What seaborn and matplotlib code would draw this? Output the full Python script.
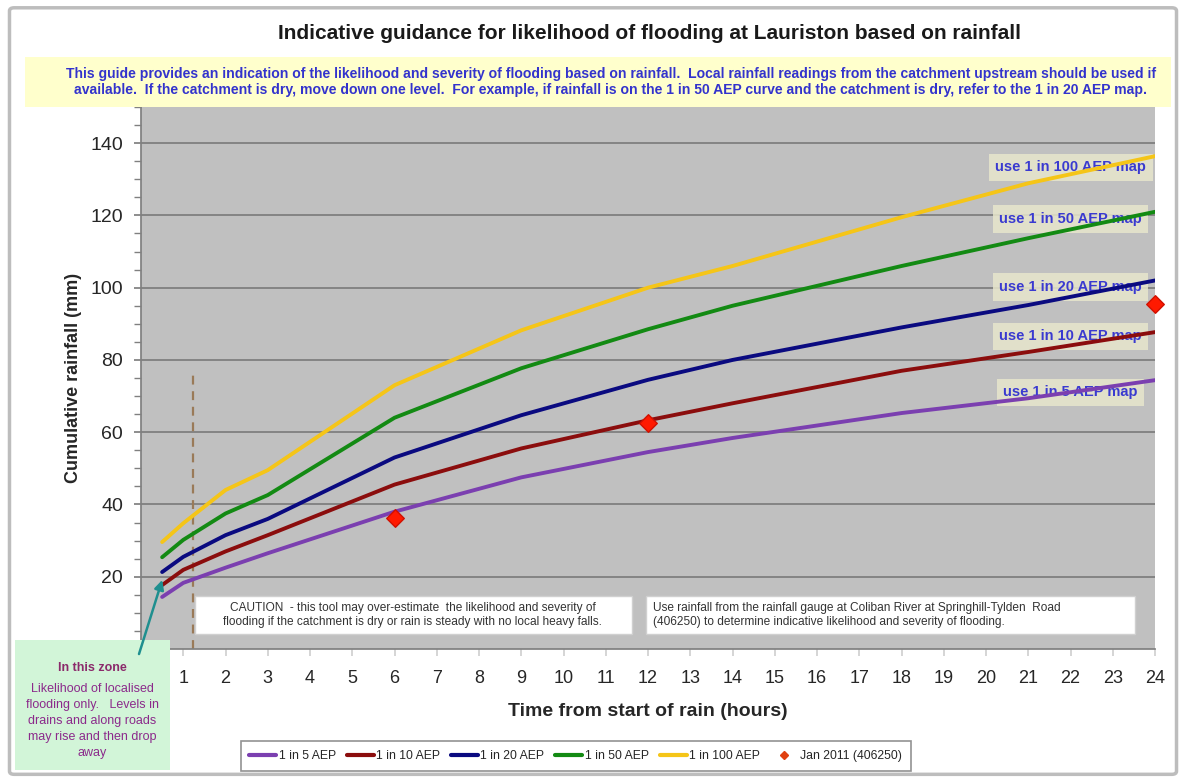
import pandas as pd
import seaborn as sns
import matplotlib.pyplot as plt
from matplotlib.patches import Rectangle, FancyBboxPatch
from matplotlib.ticker import MultipleLocator

# durations (hours) and cumulative rainfall (mm) for each AEP curve
hours = [0.5, 1, 2, 3, 6, 9, 12, 14, 18, 21, 24]
aep_5 = [14.4, 18.3, 22.5, 26.5, 38.0, 47.5, 54.5, 58.4, 65.3, 69.4, 74.4]
aep_10 = [17.7, 21.9, 27.0, 31.5, 45.5, 55.5, 63.3, 68.0, 77.0, 82.2, 87.7]
aep_20 = [21.3, 25.5, 31.5, 36.0, 53.0, 64.7, 74.5, 80.0, 89.0, 95.2, 102.0]
aep_50 = [25.4, 30.2, 37.5, 42.6, 64.0, 77.7, 88.5, 95.0, 106.0, 113.7, 121.0]
aep_100 = [29.6, 34.8, 44.0, 49.5, 73.0, 88.2, 100.0, 106.0, 119.5, 128.9, 136.4]
series_names = ["1 in 5 AEP", "1 in 10 AEP", "1 in 20 AEP", "1 in 50 AEP", "1 in 100 AEP"]

# observed event Jan 2011
obs_hours = [6, 12, 24]
obs_rain = [36.2, 62.5, 95.4]

map_labels = ["use 1 in 100 AEP map", "use 1 in 50 AEP map", "use 1 in 20 AEP map",
              "use 1 in 10 AEP map", "use 1 in 5 AEP map"]
map_label_y = [133.3, 119.0, 100.2, 86.6, 71.0]

colors = {"1 in 5 AEP": "#7b3fb0", "1 in 10 AEP": "#8b0d0d", "1 in 20 AEP": "#0a0a80",
          "1 in 50 AEP": "#138a13", "1 in 100 AEP": "#f5c518"}

rows = []
for name, vals in zip(series_names, [aep_5, aep_10, aep_20, aep_50, aep_100]):
    for h, v in zip(hours, vals):
        rows.append({"hours": h, "rain": v, "series": name})
df = pd.DataFrame(rows)

sns.set_theme(style="white")
plt.rcParams["font.family"] = ["Liberation Sans", "DejaVu Sans"]

fig = plt.figure(figsize=(11.86, 7.79), dpi=100)
ax = fig.add_axes([0.1189, 0.1669, 0.8550, 0.6957])
ax.set_facecolor("#c0c0c0")

# figure frame
fig.patches.append(FancyBboxPatch((0.008, 0.006), 0.984, 0.984, boxstyle="round,pad=0,rounding_size=0.004",
                                  transform=fig.transFigure, facecolor="none", edgecolor="#bdbdbd", lw=2.5))

sns.lineplot(data=df, x="hours", y="rain", hue="series", palette=colors, hue_order=series_names,
             lw=2.8, ax=ax, zorder=3, legend=False)
ax.scatter(obs_hours, obs_rain, marker="D", s=80, color="#ff1a00", edgecolor="#d01000", zorder=5,
           clip_on=False)

# dashed threshold line
ax.plot([1.24, 1.24], [0, 76], ls=(0, (4, 3)), color="#9a7a58", lw=1.6, zorder=2)

ax.set_xlim(0, 24)
ax.set_ylim(0, 150)
ax.set_xticks(range(1, 25))
ax.yaxis.set_major_locator(MultipleLocator(20))
ax.yaxis.set_minor_locator(MultipleLocator(5))
ax.set_yticks(range(20, 141, 20))
ax.grid(axis="y", which="major", color="#7f7f7f", lw=1.3)
ax.set_axisbelow(True)
for s in ["top", "right"]:
    ax.spines[s].set_visible(False)
ax.spines["left"].set_color("#808080")
ax.spines["bottom"].set_color("#808080")
ax.tick_params(axis="y", which="both", direction="out", left=True, length=5, color="#808080",
               labelsize=14, pad=8)
ax.tick_params(axis="x", direction="out", bottom=True, length=5, color="#d0d0d0", labelsize=13, pad=10)
ax.set_xlabel("Time from start of rain (hours)", fontsize=14, fontweight="bold", labelpad=12)
ax.set_ylabel("Cumulative rainfall (mm)", fontsize=13, fontweight="bold", labelpad=6)

# map labels on the right
for lab, yv in zip(map_labels, map_label_y):
    ax.text(22.0, yv, lab, ha="center", va="center", fontsize=10.5, fontweight="bold", color="#3a3ad0",
            zorder=2.5, bbox=dict(boxstyle="square,pad=0.45", facecolor="#e8e6cc", edgecolor="none", alpha=0.85))

# title and note
fig.text(0.548, 0.957, "Indicative guidance for likelihood of flooding at Lauriston based on rainfall",
         ha="center", va="center", fontsize=15, fontweight="bold", color="#1a1a1a")
fig.patches.append(Rectangle((0.021, 0.863), 0.966, 0.064, transform=fig.transFigure,
                             facecolor="#ffffcc", edgecolor="none"))
fig.text(0.515, 0.895,
         "This guide provides an indication of the likelihood and severity of flooding based on rainfall.  "
         "Local rainfall readings from the catchment upstream should be used if\n"
         "available.  If the catchment is dry, move down one level.  For example, if rainfall is on the "
         "1 in 50 AEP curve and the catchment is dry, refer to the 1 in 20 AEP map.",
         ha="center", va="center", fontsize=10.1, fontweight="bold", color="#3333cc", linespacing=1.2)

# caution boxes
fig.patches.append(Rectangle((0.1645, 0.186), 0.368, 0.049, transform=fig.transFigure,
                             facecolor="white", edgecolor="#d0d0d0", zorder=4))
fig.text(0.348, 0.2105, "CAUTION  - this tool may over-estimate  the likelihood and severity of\n"
         "flooding if the catchment is dry or rain is steady with no local heavy falls.",
         ha="center", va="center", fontsize=8.6, color="#333333", zorder=5, linespacing=1.3)
fig.patches.append(Rectangle((0.5447, 0.186), 0.412, 0.049, transform=fig.transFigure,
                             facecolor="white", edgecolor="#d0d0d0", zorder=4))
fig.text(0.551, 0.2105, "Use rainfall from the rainfall gauge at Coliban River at Springhill-Tylden  Road\n"
         "(406250) to determine indicative likelihood and severity of flooding.",
         ha="left", va="center", fontsize=8.6, color="#333333", zorder=5, linespacing=1.3)

# green zone box with arrow
fig.patches.append(Rectangle((0.013, 0.012), 0.130, 0.167, transform=fig.transFigure,
                             facecolor="#d2f5d8", edgecolor="none", zorder=4))
fig.text(0.078, 0.1425, "In this zone", ha="center", va="center", fontsize=9, fontweight="bold",
         color="#8b2a6b", zorder=5)
fig.text(0.078, 0.0745, "Likelihood of localised\nflooding only.   Levels in\ndrains and along roads\n"
         "may rise and then drop\naway", ha="center", va="center", fontsize=9, color="#8b2a8b",
         zorder=5, linespacing=1.45)
fig.add_artist(plt.Annotation("", xy=(0.1375, 0.259), xytext=(0.1165, 0.157), xycoords="figure fraction",
                              arrowprops=dict(arrowstyle="-|>", color="#1f8f8f", lw=1.8, mutation_scale=14),
                              zorder=6))

# legend
handles = [plt.Line2D([], [], color=colors[n], lw=3) for n in series_names]
handles.append(plt.Line2D([], [], color="#e04010", marker="D", ms=4, ls="none"))
leg = fig.legend(handles, series_names + ["Jan 2011 (406250)"], loc="center", bbox_to_anchor=(0.4855, 0.0295),
                 ncol=6, fontsize=8.8, frameon=True, fancybox=False, edgecolor="#777777",
                 handlelength=2.2, handletextpad=0.2, columnspacing=0.9, borderpad=0.7)
leg.get_frame().set_linewidth(1.2)

fig.savefig("out.png", dpi=100)
